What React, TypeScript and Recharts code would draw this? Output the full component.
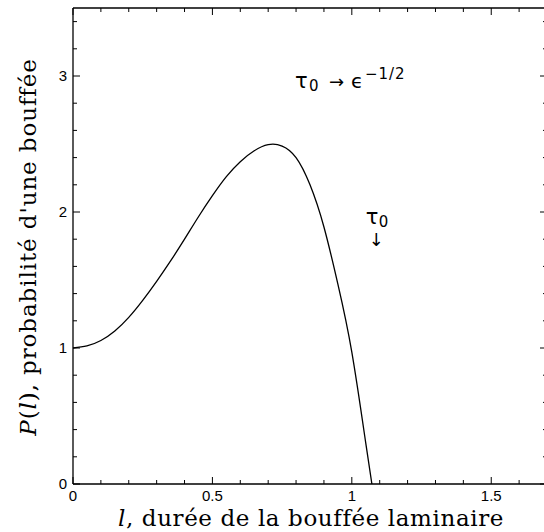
import { LineChart, Line, XAxis, YAxis, ReferenceDot, Label } from "recharts";

// l (durée de la bouffée) and P(l)
const lValues = [
  0, 0.05, 0.1, 0.15, 0.2, 0.25, 0.3, 0.35, 0.4, 0.45, 0.5, 0.55, 0.6, 0.65,
  0.7, 0.75, 0.8, 0.85, 0.9, 0.95, 1.0, 1.05, 1.072,
];
const pValues = [
  1.0, 1.015, 1.055, 1.125, 1.225, 1.35, 1.49, 1.64, 1.8, 1.965, 2.12, 2.26,
  2.37, 2.45, 2.495, 2.485, 2.4, 2.2, 1.89, 1.47, 0.97, 0.3, 0,
];

const xTicks = [
  0, 0.1, 0.2, 0.3, 0.4, 0.5, 0.6, 0.7, 0.8, 0.9, 1, 1.1, 1.2, 1.3, 1.4, 1.5,
  1.6, 1.7,
];
const yTicks = [
  0, 0.2, 0.4, 0.6, 0.8, 1, 1.2, 1.4, 1.6, 1.8, 2, 2.2, 2.4, 2.6, 2.8, 3, 3.2,
  3.4,
];
const xLabels = [0, 0.5, 1, 1.5];
const yLabels = [0, 1, 2, 3];

const data = lValues.map((l, i) => ({ l, p: pValues[i] }));

const isLabel = (v: number, list: number[]) =>
  list.some((t) => Math.abs(t - v) < 1e-6);

const tickFont = "'Liberation Sans', Arial, sans-serif";
const serif = "'DejaVu Serif', serif";
const greek = "'DejaVu Sans', sans-serif";

const MAJOR = 7;
const MINOR = 4;

function BottomTick({ x, y, payload }: any) {
  const major = isLabel(payload.value, xLabels);
  return (
    <g>
      <line x1={x} x2={x} y1={y} y2={y - (major ? MAJOR : MINOR)} stroke="#000" />
      {major && (
        <text x={x} y={y + 17} textAnchor="middle" fontFamily={tickFont} fontSize={15} fill="#000">
          {payload.value}
        </text>
      )}
    </g>
  );
}

function TopTick({ x, y, payload }: any) {
  const major = isLabel(payload.value, xLabels);
  return <line x1={x} x2={x} y1={y} y2={y + (major ? MAJOR : MINOR)} stroke="#000" />;
}

function LeftTick({ x, y, payload }: any) {
  const major = isLabel(payload.value, yLabels);
  return (
    <g>
      <line x1={x} x2={x + (major ? MAJOR : MINOR)} y1={y} y2={y} stroke="#000" />
      {major && (
        <text x={x - 6} y={y + 5} textAnchor="end" fontFamily={tickFont} fontSize={15} fill="#000">
          {payload.value}
        </text>
      )}
    </g>
  );
}

function RightTick({ x, y, payload }: any) {
  const major = isLabel(payload.value, yLabels);
  return <line x1={x} x2={x - (major ? MAJOR : MINOR)} y1={y} y2={y} stroke="#000" />;
}

function XTitle() {
  return (
    <text
      x={311}
      y={526}
      textAnchor="middle"
      fontFamily={serif}
      fontSize={23}
      letterSpacing={0.6}
      fill="#000"
    >
      <tspan fontStyle="italic">l</tspan>, durée de la bouffée laminaire
    </text>
  );
}

function YTitle() {
  const x = 36;
  const cy = 247;
  return (
    <text
      x={x}
      y={cy}
      transform={`rotate(-90 ${x} ${cy})`}
      textAnchor="middle"
      fontFamily={serif}
      fontSize={23}
      letterSpacing={0.9}
      fill="#000"
    >
      <tspan fontStyle="italic">P</tspan>(<tspan fontStyle="italic">l</tspan>), probabilité d'une bouffée
    </text>
  );
}

function LimitNote({ cx, cy }: any) {
  return (
    <g fontFamily={greek} fill="#000">
      <text x={cx} y={cy} fontSize={21}>τ</text>
      <text x={cx + 14} y={cy + 3} fontSize={15}>0</text>
      <text x={cx + 34} y={cy} fontSize={18}>→</text>
      <text x={cx + 56} y={cy} fontSize={20}>ϵ</text>
      <text x={cx + 70} y={cy - 9} fontSize={15} letterSpacing={1}>−1/2</text>
    </g>
  );
}

function CutoffNote({ cx, cy }: any) {
  return (
    <g fontFamily={greek} fill="#000">
      <text x={cx} y={cy} fontSize={21}>τ</text>
      <text x={cx + 13} y={cy + 3} fontSize={15}>0</text>
      <text x={cx + 3} y={cy + 22} fontSize={18}>↓</text>
    </g>
  );
}

export default function App() {
  return (
    <div
      style={{
        position: "absolute",
        left: 0,
        top: 0,
        width: 544,
        height: 532,
        overflow: "hidden",
        background: "#fff",
      }}
    >
      <LineChart
        width={560}
        height={532}
        data={data}
        margin={{ top: 6, right: 11, bottom: 18, left: 33 }}
      >
        <XAxis
          dataKey="l"
          type="number"
          domain={[0, 1.7]}
          ticks={xTicks}
          interval={0}
          allowDataOverflow
          height={30}
          tickSize={0}
          tickMargin={0}
          tickLine={false}
          tick={<BottomTick />}
          axisLine={{ stroke: "#000", strokeWidth: 1.3 }}
        >
          <Label content={<XTitle />} />
        </XAxis>
        <XAxis
          xAxisId="top"
          orientation="top"
          dataKey="l"
          type="number"
          domain={[0, 1.7]}
          ticks={xTicks}
          interval={0}
          allowDataOverflow
          height={2}
          tickSize={0}
          tickMargin={0}
          tickLine={false}
          tick={<TopTick />}
          axisLine={{ stroke: "#000", strokeWidth: 1.3 }}
        />
        <YAxis
          type="number"
          domain={[0, 3.5]}
          ticks={yTicks}
          interval={0}
          allowDataOverflow
          width={40}
          tickSize={0}
          tickMargin={0}
          tickLine={false}
          tick={<LeftTick />}
          axisLine={{ stroke: "#000", strokeWidth: 1.3 }}
        >
          <Label content={<YTitle />} />
        </YAxis>
        <YAxis
          yAxisId="right"
          orientation="right"
          type="number"
          domain={[0, 3.5]}
          ticks={yTicks}
          interval={0}
          allowDataOverflow
          width={2}
          tickSize={0}
          tickMargin={0}
          tickLine={false}
          tick={<RightTick />}
          axisLine={{ stroke: "#000", strokeWidth: 1.3 }}
        />
        <Line
          dataKey="p"
          type="natural"
          stroke="#000"
          strokeWidth={1.3}
          dot={false}
          isAnimationActive={false}
        />
        <Line
          dataKey="p"
          xAxisId="top"
          yAxisId="right"
          stroke="none"
          dot={false}
          legendType="none"
          isAnimationActive={false}
        />
        <ReferenceDot x={0.796} y={2.91} r={0} shape={<LimitNote />} />
        <ReferenceDot x={1.05} y={1.91} r={0} shape={<CutoffNote />} />
      </LineChart>
    </div>
  );
}
